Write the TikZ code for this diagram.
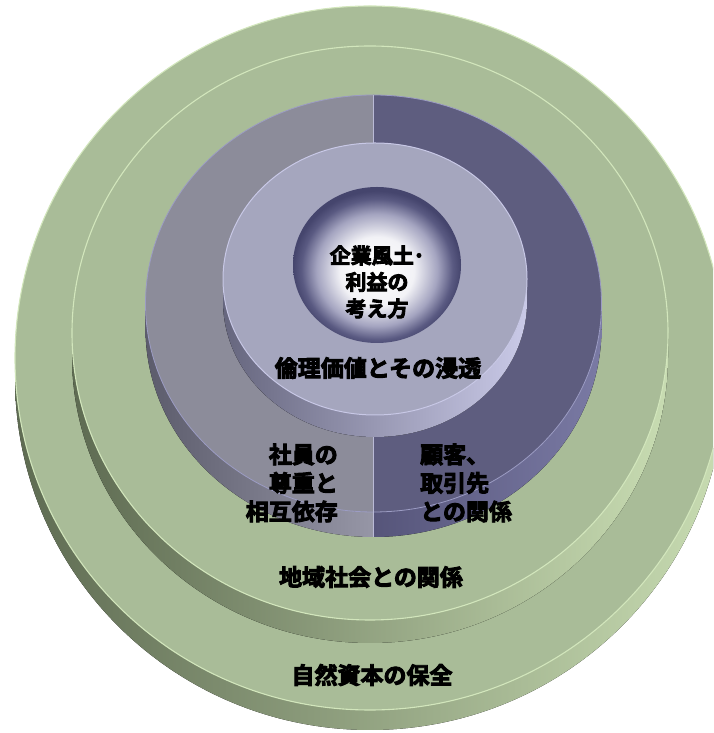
\documentclass[tikz,border=0pt]{standalone}
\usepackage{fontspec}
\newfontfamily\jp{Noto Sans CJK JP Bold}[FakeBold=4]
\definecolor{gface}{HTML}{A9BC98}
\definecolor{grim}{HTML}{D2E6BC}
\definecolor{gsideL}{HTML}{5E6B52}
\definecolor{gsideM}{HTML}{8C9D7C}
\definecolor{gsideR}{HTML}{C8DCB2}
\definecolor{pLface}{HTML}{8C8C9A}
\definecolor{pRface}{HTML}{5E5D7F}
\definecolor{pLsideL}{HTML}{5C5C6C}
\definecolor{pLsideR}{HTML}{9696A6}
\definecolor{pRsideL}{HTML}{56557A}
\definecolor{pRsideR}{HTML}{7A7AA4}
\definecolor{prim}{HTML}{9C9CC4}
\definecolor{lface}{HTML}{A5A6BE}
\definecolor{lrim}{HTML}{C8C8E6}
\definecolor{lsideL}{HTML}{66667E}
\definecolor{lsideR}{HTML}{CACAE8}
\definecolor{core1}{HTML}{F2F2F6}
\definecolor{core2}{HTML}{A4A4C0}
\definecolor{core3}{HTML}{5A5A82}
\definecolor{core4}{HTML}{45456D}
\pgfdeclareradialshading{coreshade}{\pgfpoint{0bp}{-2.5bp}}{color(0bp)=(white); color(11bp)=(core1); color(18bp)=(core2); color(22.5bp)=(core3); color(25bp)=(core4); color(50bp)=(core4)}
\tikzset{
  gside/.style={left color=gsideL, middle color=gsideM, right color=gsideR},
  gtop/.style={fill=gface, draw=grim, line width=1.1pt},
  lside/.style={left color=lsideL, right color=lsideR},
  ltop/.style={fill=lface, draw=lrim, line width=1pt},
  lbl/.style={font=\jp\fontsize{23}{28.5}\selectfont, text=black, inner sep=0pt},
  clbl/.style={font=\jp\fontsize{21}{26.5}\selectfont, text=black, inner sep=0pt, align=center}
}
\begin{document}
\begin{tikzpicture}[x=1pt,y=1pt]
\useasboundingbox (0,0) rectangle (713,733);
\clip (0,0) rectangle (713,733);
% ---------- outer disc: cx 370, cy 375, rx 355, ry 352, t 20
\fill[gside] (15,375) -- ++(0,-20) arc[start angle=180,end angle=360,x radius=355,y radius=352] -- ++(0,20) arc[start angle=0,end angle=-180,x radius=355,y radius=352] -- cycle;
\path[gtop] (370,375) ellipse[x radius=355,y radius=352];
% ---------- second disc: cx 370, cy 400, rx 298, ry 287, t 23
\fill[gside] (72,400) -- ++(0,-23) arc[start angle=180,end angle=360,x radius=298,y radius=287] -- ++(0,23) arc[start angle=0,end angle=-180,x radius=298,y radius=287] -- cycle;
\path[gtop] (370,400) ellipse[x radius=298,y radius=287];
% ---------- purple disc: cx 373.5, cy 429.5, rx 228, ry 208.5, t 25
\fill[left color=pLsideL, right color=pLsideR] (145.5,429.5) -- ++(0,-25) arc[start angle=180,end angle=270,x radius=228,y radius=208.5] -- ++(0,25) arc[start angle=270,end angle=180,x radius=228,y radius=208.5] -- cycle;
\fill[left color=pRsideL, right color=pRsideR] (373.5,221) -- ++(0,-25) arc[start angle=270,end angle=360,x radius=228,y radius=208.5] -- ++(0,25) arc[start angle=0,end angle=-90,x radius=228,y radius=208.5] -- cycle;
\fill[pLface] (373.5,638) arc[start angle=90,end angle=270,x radius=228,y radius=208.5] -- cycle;
\fill[pRface] (373.5,221) arc[start angle=-90,end angle=90,x radius=228,y radius=208.5] -- cycle;
\draw[prim, line width=0.8pt] (373.5,429.5) ellipse[x radius=228,y radius=208.5];
\draw[prim!70!white, line width=0.8pt] (373.5,638) -- (373.5,196);
% ---------- light disc: cx 375, cy 454, rx 152, ry 136, t 22
\fill[lside] (223,454) -- ++(0,-22) arc[start angle=180,end angle=360,x radius=152,y radius=136] -- ++(0,22) arc[start angle=0,end angle=-180,x radius=152,y radius=136] -- cycle;
\path[ltop] (375,454) ellipse[x radius=152,y radius=136];
% ---------- core
\path[shading=coreshade] (377,468) ellipse[x radius=84,y radius=78];
% ---------- labels
\node[clbl] (core) at (377,451) {企業風土･\\利益の\\考え方};
\node[lbl] (ethic) at (378,365) {倫理価値とその浸透};
\node[lbl, anchor=east, align=right] (staff) at (338,250) {社員の\\尊重と\\相互依存};
\node[lbl, anchor=west, align=left] (cust) at (420,250) {顧客、\\取引先\\との関係};
\node[lbl] (region) at (371,156) {地域社会との関係};
\node[lbl] (nature) at (372,58) {自然資本の保全};
\end{tikzpicture}
\end{document}
